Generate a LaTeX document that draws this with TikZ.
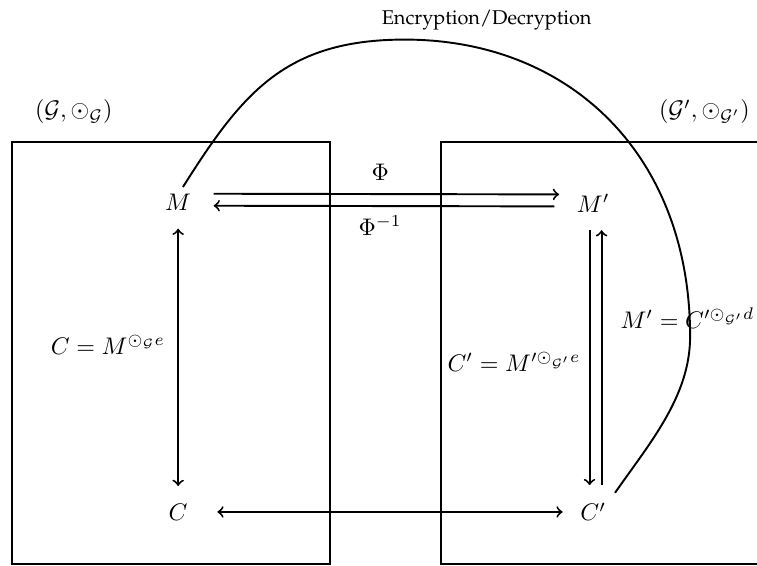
\documentclass[tikz,border=0pt]{standalone}
\usepackage{amsmath,amssymb}
\usepackage[T1,TU]{fontenc}
\newcommand{\palfont}{\fontencoding{T1}\fontfamily{ppl}\selectfont}

\begin{document}
\begin{tikzpicture}[every node/.style={inner sep=7pt}, thick]
\useasboundingbox (0,0) rectangle (11.09,8.29);

% the two groups
\draw (0.18,0.03) rectangle (4.83,6.21);
\draw (11.09,6.21) -- (6.46,6.21) -- (6.46,0.03) -- (11.09,0.03);

\node (gl) at (1.08,6.65) {$(\mathcal{G},\odot_{\mathcal{G}})$};
\node (gr) at (10.32,6.65) {$(\mathcal{G}',\odot_{\mathcal{G}'})$};

\foreach \name/\x/\y/\txt in {m/2.61/5.32/M, mp/8.69/5.31/M', c/2.61/0.79/C, cp/8.69/0.79/C'}
  \node (\name) at (\x,\y) {$\txt$};

\draw[->, shorten <=2pt] ([yshift=3.75pt]m.east) -- ([yshift=3.75pt]mp.west);
\draw[->, shorten <=2pt, shorten >=2pt] ([yshift=-1.25pt]mp.west) -- ([yshift=-1.25pt]m.east);
\draw[<->] (m) -- (c);
\draw[->] ([xshift=-1.5pt]mp.south) -- ([xshift=-1.5pt]cp.north);
\draw[->] ([xshift=3.5pt]cp.north) -- ([xshift=3.5pt]mp.south);
\draw[<->, shorten <=5pt] (c) -- (cp);

\node (phi) at (5.57,5.77) {$\Phi$};
\node (phiinv) at (5.57,4.98) {$\Phi^{-1}$};
\node (enc) at (1.58,3.24) {$C = M^{\odot_{\mathcal{G}} e}$};
\node (encp) at (7.53,2.99) {$C' = M'^{\odot_{\mathcal{G}'} e}$};
\node (decp) at (10.07,3.63) {$M' = C'^{\odot_{\mathcal{G}'} d}$};

% encryption / decryption arc
\coordinate (a0) at (2.68,5.55);
\coordinate (a1) at (5.93,7.71);
\coordinate (a2) at (10.11,3.36);
\coordinate (a3) at (9.01,1.07);
\draw (a0) .. controls (3.55,6.93) and (4.18,7.71) .. (a1)
  .. controls (8.35,7.71) and (10.11,6.02) .. (a2)
  .. controls (10.11,2.48) and (9.51,1.79) .. (a3);
\node (ed) at (7.13,7.99) {\palfont\fontsize{8.3}{10}\selectfont Encryption/Decryption};

\end{tikzpicture}
\end{document}
